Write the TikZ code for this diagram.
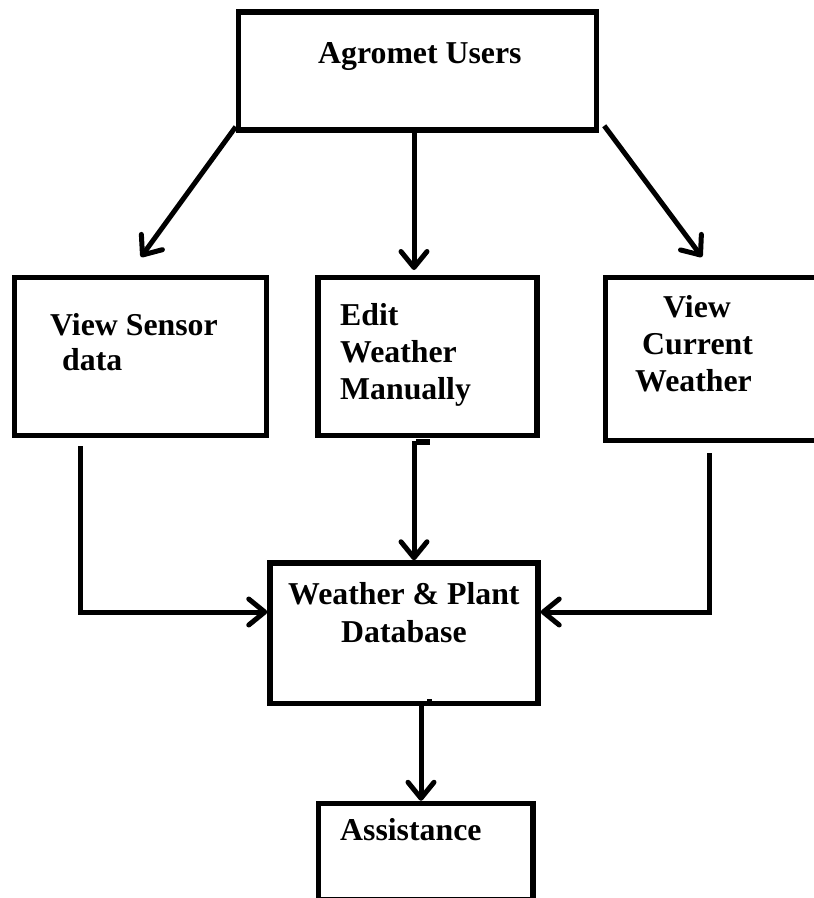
\documentclass[tikz,border=0pt]{standalone}
\usepackage{fontspec}
\setmainfont{Liberation Serif}
\usetikzlibrary{arrows.meta}
\begin{document}
\begin{tikzpicture}[x=1pt,y=-1pt,
  box/.style={draw,line width=5.5pt,inner sep=0pt},
  txt/.style={anchor=base west,inner sep=0pt,font=\fontsize{31.8}{37}\selectfont\bfseries},
  conn/.style={line width=5pt,-{Straight Barb[length=16pt,width=26pt,round]}}]
\fill[white] (0,0) rectangle (814,898);
\useasboundingbox (0,0) rectangle (814,898);
\clip (0,0) rectangle (814,898);
% boxes
\node[box,minimum width=358pt,minimum height=118pt] (A) at (417.5,71) {};
\node[box,minimum width=252pt,minimum height=158pt] (S) at (140.5,356.5) {};
\node[box,minimum width=219pt,minimum height=158pt] (E) at (427.5,356.5) {};
\node[box,minimum width=234.5pt,minimum height=163pt] (C) at (722.75,359) {};
\node[box,minimum width=268pt,minimum height=140.5pt] (D) at (404,633.25) {};
\node[box,minimum width=214.5pt,minimum height=96.5pt] (AS) at (425.75,851.75) {};
% texts
\node[txt] (tA) at (318,63) {Agromet Users};
\node[txt] (tS1) at (50,335) {View Sensor};
\node[txt] (tS2) at (62,370) {data};
\node[txt] (tE1) at (340,325) {Edit};
\node[txt] (tE2) at (340,362) {Weather};
\node[txt] (tE3) at (340,399) {Manually};
\node[txt] (tC1) at (663,317) {View};
\node[txt] (tC2) at (642,354) {Current};
\node[txt] (tC3) at (635,391) {Weather};
\node[txt] (tD1) at (288,604) {Weather \& Plant};
\node[txt] (tD2) at (341,642) {Database};
\node[txt] (tAS) at (340,840) {Assistance};
% free ends
\coordinate (t1) at (141,257);
\coordinate (m2) at (414,270);
\coordinate (t3) at (702,257);
\coordinate (s4) at (80,446);
\coordinate (b4) at (80,612);
\coordinate (m5) at (414,441);
\coordinate (s6) at (709,453);
\coordinate (b6) at (709,612);
\coordinate (m7) at (421,0);
% connectors
\draw[conn] ([yshift=6pt]A.south west) -- (t1);
\draw[conn] (A.south -| m2) -- (m2);
\draw[conn] ([xshift=5pt,yshift=7pt]A.south east) -- (t3);
\draw[conn] (s4) -- (b4) -- (D.west |- b4);
\draw[conn] (m5) -- (D.north -| m5);
\draw[conn] (s6) -- (b6) -- (D.east |- b6);
\draw[conn] (D.south -| m7) -- (AS.north -| m7);
% small stubs
\fill (416,439) rectangle (430,445);
\fill (427,699) rectangle (432,702);
\end{tikzpicture}
\end{document}
